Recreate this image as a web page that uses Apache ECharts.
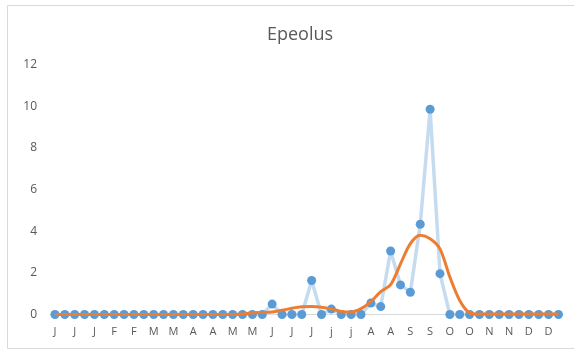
<!DOCTYPE html>
<html>
<head>
<meta charset="utf-8">
<script src="https://cdn.jsdelivr.net/npm/echarts@6/dist/echarts.min.js"></script>
<style>
html,body{margin:0;padding:0;background:#fff;}
#c{width:574px;height:351px;}
</style>
</head>
<body>
<div id="c"></div>
<script>
const title = "Epeolus";
const categories = [
  "J","J","J","J","J",
  "F","F","F","F",
  "M","M","M","M",
  "A","A","A","A",
  "M","M","M","M","M",
  "J","J","J","J","J",
  "j","j","j","j","j",
  "A","A","A","A",
  "S","S","S","S",
  "O","O","O","O",
  "N","N","N","N",
  "D","D","D","D"
];
const weekly = [
  0,0,0,0,0,0,0,0,0,0,
  0,0,0,0,0,0,0,0,0,0,
  0,0,0.5,0,0,0,1.63,0,0.26,0,
  0,0,0.55,0.38,3.05,1.42,1.07,4.33,9.85,1.96,
  0,0,0,0,0,0,0,0,0,0,
  0,0
];
const trend = [
  0,0,0,0,0,0,0,0,0,0,
  0,0,0,0,0,0,0,0,0,0.02,
  0.08,0.1,0.12,0.2,0.3,0.37,0.38,0.35,0.27,0.15,
  0.12,0.28,0.62,1.1,1.43,2.43,3.4,3.8,3.64,3.15,
  1.8,0.67,0.08,0.02,0.02,0.02,0.02,0.02,0.02,0.02,
  0.02,0.02
];
const yTicks = [0, 2, 4, 6, 8, 10, 12];

const chart = echarts.init(document.getElementById('c'), null, {renderer: 'canvas'});
chart.setOption({
  animation: false,
  backgroundColor: '#ffffff',
  graphic: [{
    type: 'rect',
    shape: {x: 7.5, y: 5.5, width: 580, height: 343},
    style: {fill: 'none', stroke: '#d9d9d9', lineWidth: 1},
    silent: true
  }],
  title: {
    text: title,
    left: 295,
    top: 21,
    textAlign: 'center',
    textStyle: {fontFamily: 'Open Sans', fontSize: 18, fontWeight: 'normal', color: '#595959'}
  },
  grid: {left: 50, right: 10.6, top: 64.5, bottom: 36.5, containLabel: false},
  xAxis: {
    type: 'category',
    data: categories,
    boundaryGap: true,
    axisLine: {show: true, lineStyle: {color: '#d9d9d9', width: 1}},
    axisTick: {show: false},
    axisLabel: {interval: 1, color: '#595959', fontFamily: 'Open Sans', fontSize: 11, margin: 12}
  },
  yAxis: {
    type: 'value',
    min: yTicks[0],
    max: yTicks[yTicks.length - 1],
    interval: 2,
    axisLine: {show: false},
    axisTick: {show: false},
    splitLine: {show: false},
    axisLabel: {color: '#595959', fontFamily: 'Open Sans', fontSize: 12, margin: 13}
  },
  series: [
    {
      type: 'line',
      data: weekly,
      symbol: 'circle',
      symbolSize: 9,
      showSymbol: true,
      showAllSymbol: true,
      lineStyle: {color: '#c5dcf0', width: 3.5},
      itemStyle: {color: '#5b9bd5'},
      z: 2
    },
    {
      type: 'line',
      data: trend,
      symbol: 'none',
      smooth: 0.3,
      lineStyle: {color: '#ed7d31', width: 3},
      z: 3
    }
  ]
});
</script>
</body>
</html>
